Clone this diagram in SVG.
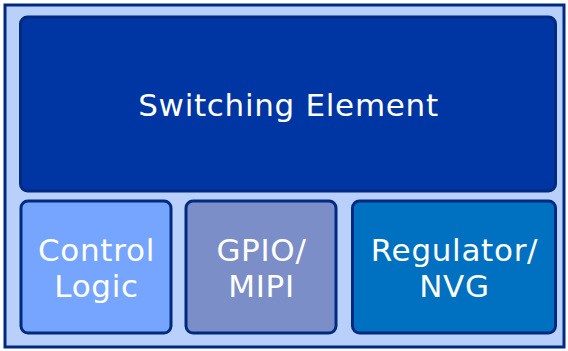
<svg xmlns="http://www.w3.org/2000/svg" width="568" height="351" viewBox="0 0 568 351">
<style>
.box{stroke:#002a80;stroke-width:3}
.t{font-family:"DejaVu Sans",Verdana,sans-serif;font-size:31px;letter-spacing:0.7px;fill:#ffffff;text-anchor:middle}
</style>
<rect x="0" y="0" width="568" height="351" fill="#ffffff"/>
<g id="frame"><rect x="5" y="5" width="559" height="342" fill="#b9d0fb" stroke="#002a80" stroke-width="3"/></g>
<g id="connectors"></g>
<g id="switching"><rect class="box" x="20.5" y="17" width="535" height="174" rx="7" fill="#0036a4"/><text class="t" x="288.5" y="116">Switching Element</text></g>
<g id="control"><rect class="box" x="21" y="201" width="150" height="132" rx="7" fill="#76a5ff"/><text class="t" x="96.5" y="261">Control</text><text class="t" x="96.5" y="297">Logic</text></g>
<g id="gpio"><rect class="box" x="186" y="201" width="150" height="132" rx="7" fill="#7b8ec8"/><text class="t" x="261.5" y="261">GPIO/</text><text class="t" x="261.5" y="297">MIPI</text></g>
<g id="regulator"><rect class="box" x="352.5" y="201" width="203" height="132" rx="7" fill="#0070c0"/><text class="t" x="454.5" y="261">Regulator/</text><text class="t" x="454.5" y="297">NVG</text></g>
</svg>
